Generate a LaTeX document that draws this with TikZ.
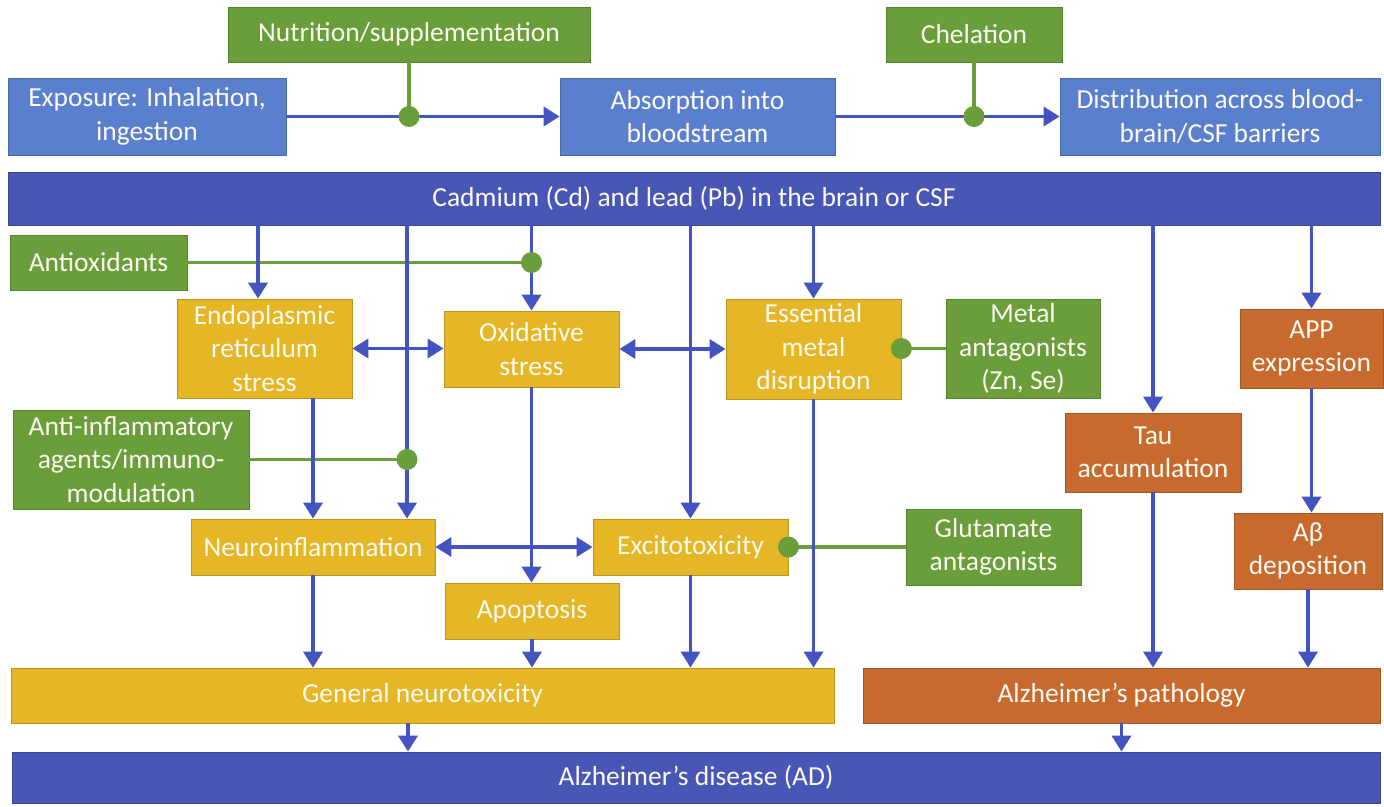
\documentclass[tikz,border=0pt]{standalone}
\usepackage{fontspec}
\setmainfont{Carlito}
\usetikzlibrary{arrows.meta,calc}

\definecolor{lblue}{RGB}{91,127,207}
\definecolor{dblue}{RGB}{72,86,182}
\definecolor{ablue}{RGB}{67,83,192}
\definecolor{tgreen}{RGB}{106,158,58}
\definecolor{tyellow}{RGB}{229,182,37}
\definecolor{torange}{RGB}{200,105,46}
\definecolor{btext}{RGB}{252,250,242}

\tikzset{
  box/.style={draw=#1!82!black, line width=0.8pt, fill=#1, text=btext,
    align=center, inner sep=0pt, font=\fontsize{27.5}{33.5}\selectfont},
  wh/.style 2 args={minimum width=#1pt, minimum height=#2pt},
  arr/.style={draw=ablue, line width=3.5pt,
    -{Triangle[width=19pt,length=16pt]}},
  dbl/.style={draw=ablue, line width=3.5pt,
    {Triangle[width=19pt,length=16pt]}-{Triangle[width=19pt,length=16pt]}},
  inh/.style={draw=tgreen, line width=3.5pt},
}

\begin{document}
\begin{tikzpicture}[x=1pt,y=-1pt]
\useasboundingbox (0,0) rectangle (1384,806);

% ---- uptake row
\node[box=tgreen, wh={362}{55}] (nutr) at (409,34.5) {Nutrition/supplementation};
\node[box=tgreen, wh={176}{55}] (chel) at (974,34.5) {Chelation};
\node[box=lblue, wh={278}{77}] (expo) at (147,116.5) {Exposure: Inhalation,\\ingestion};
\node[box=lblue, wh={275}{77}] (absorb) at (697.5,116.5) {Absorption into\\bloodstream};
\node[box=lblue, wh={320}{77}] (distr) at (1220,116.5) {Distribution across blood-\\brain/CSF barriers};

% ---- metals in the brain
\node[box=dblue, wh={1372}{53}] (cd) at (694,198.5) {Cadmium (Cd) and lead (Pb) in the brain or CSF};

% ---- interventions
\node[box=tgreen, wh={177}{55}] (antiox) at (98.5,262.5) {Antioxidants};
\node[box=tgreen, wh={236}{99}] (antiinf) at (131,459.5) {Anti-inflammatory\\agents/immuno-\\modulation};
\node[box=tgreen, wh={154}{99}] (metal) at (1023,348.5) {Metal\\antagonists\\(Zn, Se)};
\node[box=tgreen, wh={175}{76}] (glut) at (993.5,547) {Glutamate\\antagonists};

% ---- mechanisms
\node[box=tyellow, wh={175}{99}] (er) at (264.5,348.5) {Endoplasmic\\reticulum\\stress};
\node[box=tyellow, wh={175}{76}] (oxid) at (531.5,349) {Oxidative\\stress};
\node[box=tyellow, wh={175}{100}] (ess) at (813.5,349) {Essential\\metal\\disruption};
\node[box=tyellow, wh={244}{56}] (neuro) at (313,547) {Neuroinflammation};
\node[box=tyellow, wh={195}{56}] (excit) at (690.5,547) {Excitotoxicity};
\node[box=tyellow, wh={174}{56}] (apop) at (532,611) {Apoptosis};

% ---- amyloid / tau branch
\node[box=torange, wh={143}{79}] (app) at (1311.5,348.5) {APP\\expression};
\node[box=torange, wh={176}{79}] (tau) at (1153,452.5) {Tau\\accumulation};
\node[box=torange, wh={148}{76}] (abeta) at (1308,551) {Aβ\\deposition};

% ---- outcomes
\node[box=tyellow, wh={823}{55}] (gen) at (422.5,695.5) {General neurotoxicity};
\node[box=torange, wh={517}{55}] (path) at (1121.5,695.5) {Alzheimer’s pathology};
\node[box=dblue, wh={1368}{51}] (ad) at (696,777.5) {Alzheimer’s disease (AD)};

% ---- columns used by the vertical connectors
\coordinate (colER) at (258,0);
\coordinate (colNI) at (407,0);
\coordinate (colGN) at (408,0);

% ---- junction points of the green inhibition lines
\coordinate (jNutr) at (nutr.south |- expo.east);
\coordinate (jChel) at (chel.south |- absorb.east);
\coordinate (jAntiox) at (antiox.east -| oxid.north);
\coordinate (jAntiinf) at (antiinf.east -| colNI);
\coordinate (jMetal) at (metal.west -| ess.east);
\coordinate (jGlut) at (glut.west -| excit.east);

% green inhibition lines (under the blue arrows)
\draw[inh] (nutr.south) -- (jNutr);
\draw[inh] (chel.south) -- (jChel);
\draw[inh] (antiox.east) -- (jAntiox);
\draw[inh] (antiinf.east) -- (jAntiinf);
\draw[inh] (metal.west) -- (jMetal);
\draw[inh] (glut.west) -- (jGlut);

% uptake chain
\draw[arr] (expo.east) -- (absorb.west);
\draw[arr] (absorb.east) -- (distr.west);

% from the metals bar
\draw[arr] (cd.south -| colER) -- (er.north -| colER);
\draw[arr] (cd.south -| colNI) -- (neuro.north -| colNI);
\draw[arr] (cd.south -| oxid.north) -- (oxid.north);
\draw[arr] (cd.south -| excit.north) -- (excit.north);
\draw[arr] (cd.south -| ess.north) -- (ess.north);
\draw[arr] (cd.south -| tau.north) -- (tau.north);
\draw[arr] (cd.south -| app.north) -- (app.north);

% interactions between mechanisms
\draw[dbl] (er.east) -- (er.east -| oxid.west);
\draw[dbl] (oxid.east) -- (oxid.east -| ess.west);
\draw[dbl] (neuro.east) -- (excit.west);
\draw[arr] (er.south -| neuro.north) -- (neuro.north);
\draw[arr] (oxid.south) -- (oxid.south |- apop.north);

% into the outcomes
\draw[arr] (neuro.south) -- (neuro.south |- gen.north);
\draw[arr] (apop.south) -- (apop.south |- gen.north);
\draw[arr] (excit.south) -- (excit.south |- gen.north);
\draw[arr] (ess.south) -- (ess.south |- gen.north);
\draw[arr] (tau.south) -- (tau.south |- path.north);
\draw[arr] (app.south) -- (app.south |- abeta.north);
\draw[arr] (abeta.south) -- (abeta.south |- path.north);
\draw[arr] (gen.south -| colGN) -- (ad.north -| colGN);
\draw[arr] (path.south) -- (path.south |- ad.north);

% junction dots
\foreach \j in {jNutr,jChel,jAntiox,jAntiinf,jMetal,jGlut}
  \fill[tgreen] (\j) circle (10.5pt);
\end{tikzpicture}
\end{document}
